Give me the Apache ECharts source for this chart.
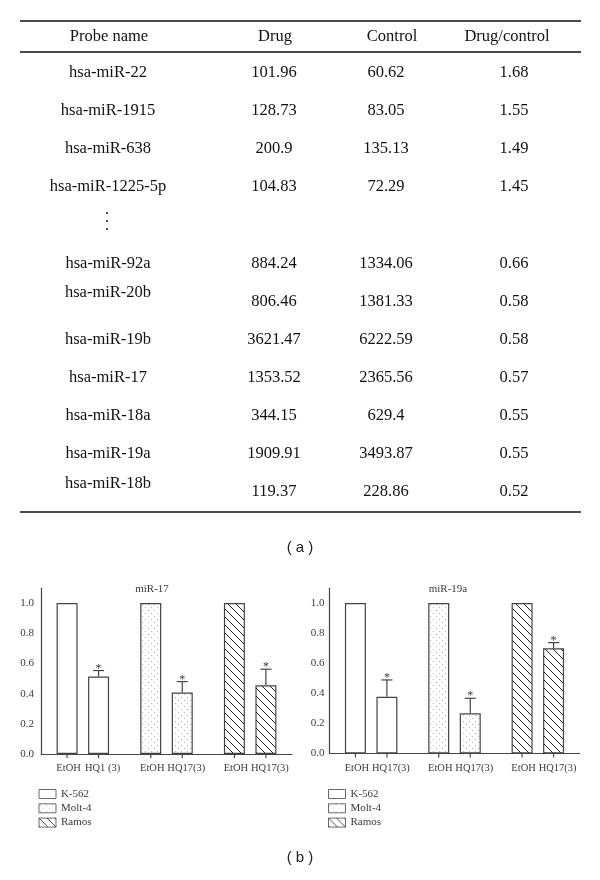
<!DOCTYPE html>
<html><head><meta charset="utf-8">
<script src="https://cdn.jsdelivr.net/npm/echarts@6/dist/echarts.min.js"></script>
<style>html,body{margin:0;padding:0;background:#fff}#c{width:600px;height:880px}</style>
</head><body><div id="c"></div>
<script>
// ---------- data: table (a) ----------
const tableHeader = ['Probe name', 'Drug', 'Control', 'Drug/control'];
const probeNames = ['hsa-miR-22','hsa-miR-1915','hsa-miR-638','hsa-miR-1225-5p','hsa-miR-92a','hsa-miR-20b','hsa-miR-19b','hsa-miR-17','hsa-miR-18a','hsa-miR-19a','hsa-miR-18b'];
const drugValues = ['101.96','128.73','200.9','104.83','884.24','806.46','3621.47','1353.52','344.15','1909.91','119.37'];
const controlValues = ['60.62','83.05','135.13','72.29','1334.06','1381.33','6222.59','2365.56','629.4','3493.87','228.86'];
const ratioValues = ['1.68','1.55','1.49','1.45','0.66','0.58','0.58','0.57','0.55','0.55','0.52'];

// ---------- data: charts (b) ----------
const cellLines = ['K-562', 'Molt-4', 'Ramos'];
const controlLabel = 'EtOH';
const treatLabels17 = ['HQ1 (3)', 'HQ17(3)', 'HQ17(3)'];
const treatLabels19a = ['HQ17(3)', 'HQ17(3)', 'HQ17(3)'];
const etoh17 = [1, 1, 1];
const hq17 = [0.513, 0.407, 0.456];
const hq17Err = [0.040, 0.073, 0.106];
const sig17 = ['*', '*', '*'];
const etoh19a = [1, 1, 1];
const hq19a = [0.377, 0.267, 0.700];
const hq19aErr = [0.112, 0.100, 0.037];
const sig19a = ['*', '*', '*'];
const yTickValues = [0, 0.2, 0.4, 0.6, 0.8, 1.0];
const chartTitles = ['miR-17', 'miR-19a'];

// ---------- styles ----------
const SERIF = '"Liberation Serif", "DejaVu Serif", serif';
const SANS = '"Liberation Sans", Arial, sans-serif';
const INK = '#111';
const GRAY = '#3a3a3a';
const BAR_W = 21, BAR_GAP = 10.5;
const OFF = (BAR_W + BAR_GAP) / 2;

function makePattern(kind) {
  const s = kind === 'hatch' ? 8 : 6;
  const c = document.createElement('canvas');
  c.width = s; c.height = s;
  const g = c.getContext('2d');
  g.fillStyle = '#fff'; g.fillRect(0, 0, s, s);
  if (kind === 'hatch') {
    g.strokeStyle = '#222'; g.lineWidth = 1;
    g.beginPath();
    for (const k of [-s, 0, s]) { g.moveTo(k, 0); g.lineTo(k + s, s); }
    g.stroke();
  } else if (kind === 'dots') {
    g.fillStyle = '#b5b5b5';
    g.fillRect(1, 1, 1, 1);
    g.fillRect(4, 4, 1, 1);
  }
  return { image: c, repeat: 'repeat' };
}
const fills = ['#ffffff', makePattern('dots'), makePattern('hatch')];

// ---------- table graphics ----------
const graphics = [];
function txt(text, x, y, font, fill, extra) {
  graphics.push({ type: 'text', silent: true, style: Object.assign({ text, x, y, font, fill: fill || INK, align: 'center', verticalAlign: 'middle' }, extra || {}) });
}
function hline(y, x1, x2) {
  graphics.push({ type: 'line', silent: true, shape: { x1, y1: y, x2, y2: y }, style: { stroke: INK, lineWidth: 1.3 } });
}
const TFONT = '16.5px ' + SERIF;
const headerX = [109, 275, 392, 507];
const colX = [108, 274, 386, 514];
hline(21, 20, 581);
tableHeader.forEach((h, i) => txt(h, headerX[i], 37, TFONT));
hline(52, 20, 581);
const nameShift = { 5: -9, 10: -8 };
probeNames.forEach((n, i) => {
  const y = i < 4 ? 73 + 38 * i : 264 + 38 * (i - 4);
  txt(n, colX[0], y + (nameShift[i] || 0), TFONT);
  txt(drugValues[i], colX[1], y, TFONT);
  txt(controlValues[i], colX[2], y, TFONT);
  txt(ratioValues[i], colX[3], y, TFONT);
});
txt('.\n.\n.', 107, 218, '16px ' + SERIF, INK, { lineHeight: 8 });
hline(512, 20, 581);
txt('( a )', 300, 548, '15px ' + SANS, '#222');
txt('( b )', 300, 858, '15px ' + SANS, '#222');
txt(chartTitles[0], 152, 589, '11px ' + SERIF, GRAY);
txt(chartTitles[1], 448, 589, '11px ' + SERIF, GRAY);

// ---------- chart helpers ----------
function xAxisFor(idx, treat) {
  const lab = { width: 34, align: 'center', fontFamily: SERIF, fontSize: 10.5, color: GRAY };
  return {
    gridIndex: idx, type: 'category', data: cellLines,
    axisLine: { lineStyle: { color: '#444', width: 1.2 } },
    axisTick: { show: false },
    axisLabel: {
      margin: 9, interval: 0,
      formatter: (v, i) => '{s| }{a|' + controlLabel + '}{b|' + treat[i] + '}',
      rich: { s: { width: 5.5, fontSize: 10.5 }, a: lab, b: lab }
    }
  };
}
function yAxisFor(idx, margin) {
  return {
    gridIndex: idx, type: 'value', min: 0, max: 1.1, interval: 0.2,
    axisLine: { show: true, lineStyle: { color: '#444', width: 1.2 } },
    axisTick: { show: false },
    splitLine: { show: false },
    axisLabel: { showMaxLabel: false, margin, fontFamily: SERIF, fontSize: 11, color: GRAY,
      formatter: v => yTickValues.some(t => Math.abs(t - v) < 1e-9) ? v.toFixed(1) : '' }
  };
}
function barSeries(idx, name, values) {
  return {
    type: 'bar', name, xAxisIndex: idx, yAxisIndex: idx,
    barWidth: BAR_W, barGap: (BAR_GAP / BAR_W * 100) + '%',
    itemStyle: { borderColor: '#444', borderWidth: 1.2 },
    data: values.map((v, i) => ({ value: v, itemStyle: { color: fills[i] } })),
    z: 2
  };
}
function decoSeries(idx, etoh, hq, err, sig) {
  const data = [];
  etoh.forEach((v, i) => data.push([i, v, 0, 0, '']));
  hq.forEach((v, i) => data.push([i, v, err[i], 1, sig[i]]));
  return {
    type: 'custom', xAxisIndex: idx, yAxisIndex: idx, clip: false, z: 5, silent: true,
    encode: { x: 0, y: 1 },
    data,
    renderItem: (params, api) => {
      const cat = api.value(0), val = api.value(1), e = api.value(2), slot = api.value(3);
      const star = data[params.dataIndex][4];
      const base = api.coord([cat, 0]);
      const x = base[0] + (slot === 0 ? -OFF : OFF);
      const ch = [{ type: 'line', shape: { x1: x, y1: base[1], x2: x, y2: base[1] + 4 }, style: { stroke: '#444', lineWidth: 1.2 } }];
      if (e > 0) {
        const top = api.coord([cat, val]);
        const up = api.coord([cat, val + e]);
        ch.push({ type: 'line', shape: { x1: x, y1: top[1], x2: x, y2: up[1] }, style: { stroke: '#444', lineWidth: 1.2 } });
        ch.push({ type: 'line', shape: { x1: x - 5.5, y1: up[1], x2: x + 5.5, y2: up[1] }, style: { stroke: '#444', lineWidth: 1.2 } });
        if (star) ch.push({ type: 'text', style: { text: star, x, y: up[1] - 2, font: '12px ' + SERIF, fill: GRAY, align: 'center', verticalAlign: 'middle' } });
      }
      return { type: 'group', children: ch };
    }
  };
}
function legendFor(left) {
  return {
    left, top: 788.5, orient: 'vertical', padding: 0, itemGap: 3.3,
    itemWidth: 17, itemHeight: 9, selectedMode: false,
    textStyle: { fontFamily: SERIF, fontSize: 11, color: GRAY, lineHeight: 11 },
    data: cellLines.map((n, i) => ({ name: n, icon: 'rect', itemStyle: { color: fills[i], borderColor: '#444', borderWidth: 1 } }))
  };
}

const option = {
  animation: false,
  backgroundColor: '#fff',
  grid: [
    { left: 41, top: 588, width: 251, height: 166 },
    { left: 329.5, top: 588, width: 250, height: 165.5 }
  ],
  xAxis: [xAxisFor(0, treatLabels17), xAxisFor(1, treatLabels19a)],
  yAxis: [yAxisFor(0, 7), yAxisFor(1, 5)],
  legend: [legendFor(38.5), legendFor(328)],
  graphic: graphics,
  series: [
    barSeries(0, controlLabel, etoh17),
    barSeries(0, 'HQ', hq17),
    decoSeries(0, etoh17, hq17, hq17Err, sig17),
    barSeries(1, controlLabel, etoh19a),
    barSeries(1, 'HQ', hq19a),
    decoSeries(1, etoh19a, hq19a, hq19aErr, sig19a),
    ...cellLines.map(n => ({ type: 'scatter', name: n, xAxisIndex: 0, yAxisIndex: 0, data: [] }))
  ]
};
const chart = echarts.init(document.getElementById('c'), null, { renderer: 'canvas' });
chart.setOption(option);
</script>
</body></html>
